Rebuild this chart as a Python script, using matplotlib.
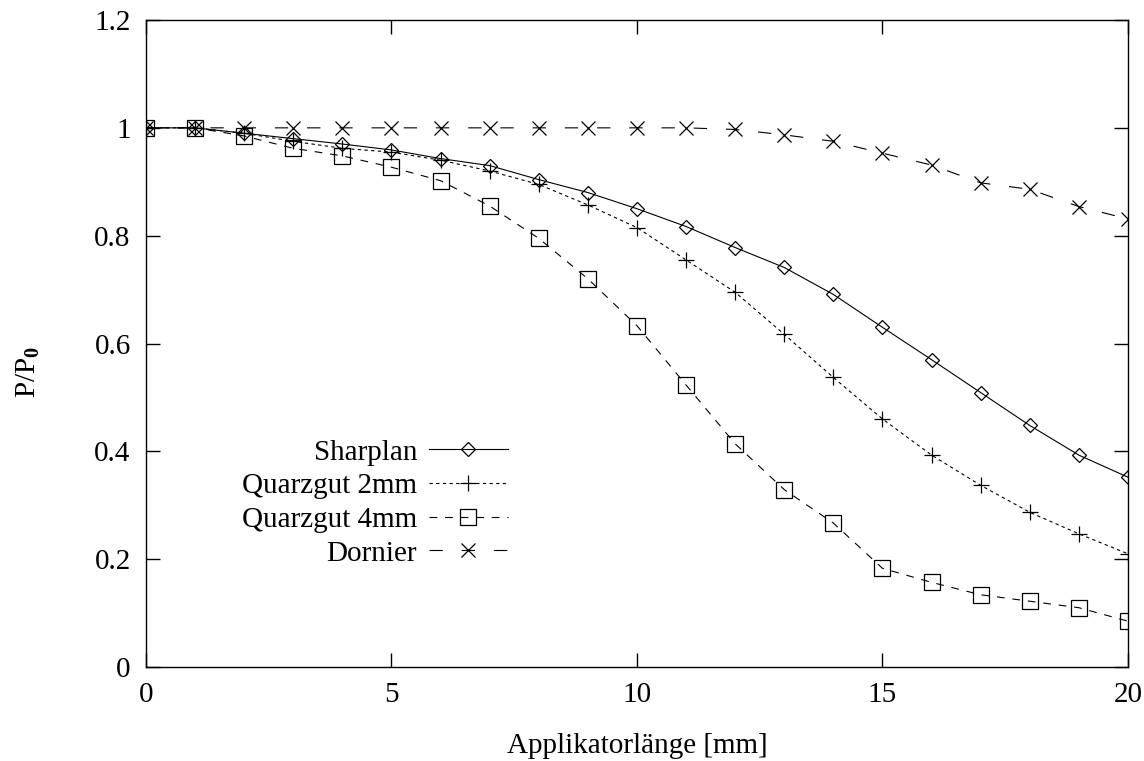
import numpy as np
import matplotlib
matplotlib.use("Agg")
import matplotlib.pyplot as plt

plt.rcParams['font.family'] = ['Liberation Serif', 'DejaVu Serif']
plt.rcParams['mathtext.fontset'] = 'custom'
plt.rcParams['mathtext.rm'] = 'Liberation Serif'
plt.rcParams['mathtext.bf'] = 'Liberation Serif:bold'

# Applikatorlänge in mm
laenge = list(range(0, 21))

sharplan = [1.0, 1.0, 0.99, 0.98, 0.97, 0.959, 0.943, 0.93, 0.904, 0.88, 0.85,
            0.817, 0.778, 0.741, 0.691, 0.63, 0.57, 0.509, 0.448, 0.393, 0.352]
quarz_2mm = [1.0, 1.0, 0.99, 0.975, 0.962, 0.955, 0.94, 0.92, 0.895, 0.857, 0.815,
             0.755, 0.695, 0.617, 0.537, 0.46, 0.393, 0.337, 0.287, 0.247, 0.21]
quarz_4mm = [1.0, 1.0, 0.985, 0.962, 0.948, 0.927, 0.902, 0.855, 0.795, 0.72, 0.633,
             0.523, 0.414, 0.329, 0.267, 0.183, 0.157, 0.134, 0.122, 0.11, 0.085]
dornier = [1.0, 1.0, 1.0, 1.0, 1.0, 1.0, 1.0, 1.0, 1.0, 1.0, 1.0,
           1.0, 0.997, 0.987, 0.975, 0.953, 0.931, 0.898, 0.886, 0.854, 0.831]

fs = 21
fig = plt.figure(figsize=(11.44, 7.61), dpi=100)
ax = fig.add_axes([0.1276, 0.1235, 0.8584, 0.8502])

lw = 0.8
ax.plot(laenge, sharplan, color='black', lw=lw, ls='-', marker='D', ms=7.5,
        mfc='none', mec='black', mew=0.9, label='Sharplan')
ax.plot(laenge, quarz_2mm, color='black', lw=lw, ls=(0, (3, 3)), marker='+', ms=11,
        mew=0.9, label='Quarzgut 2mm')
ax.plot(laenge, quarz_4mm, color='black', lw=lw, ls=(0, (7, 7)), marker='s', ms=11,
        mfc='none', mec='black', mew=0.9, label='Quarzgut 4mm')
ax.plot(laenge, dornier, color='black', lw=lw, ls=(0, (12, 17)), marker='x', ms=10.5,
        mew=0.9, label='Dornier')

ax.set_xlim(0, 20)
ax.set_ylim(0, 1.2)
ax.set_xticks([0, 5, 10, 15, 20])
ax.set_yticks([0, 0.2, 0.4, 0.6, 0.8, 1, 1.2])
ax.set_yticklabels(['0', '0.2', '0.4', '0.6', '0.8', '1', '1.2'])
ax.tick_params(direction='in', length=10, width=1, top=True, right=True,
               labelsize=fs, pad=11)
for s in ax.spines.values():
    s.set_linewidth(1.0)

ax.set_xlabel('Applikatorlänge [mm]', fontsize=fs, labelpad=18)
ax.set_ylabel(r'P/P$_\mathbf{0}$', fontsize=fs)
ax.yaxis.set_label_coords(-0.106, 0.456)

leg = ax.legend(loc='lower left', bbox_to_anchor=(0.08, 0.128), frameon=False,
                markerfirst=False, fontsize=fs, handlelength=2.7,
                labelspacing=0.25, handletextpad=0.4, borderaxespad=0.2)

fig.savefig('out.png', dpi=100)
